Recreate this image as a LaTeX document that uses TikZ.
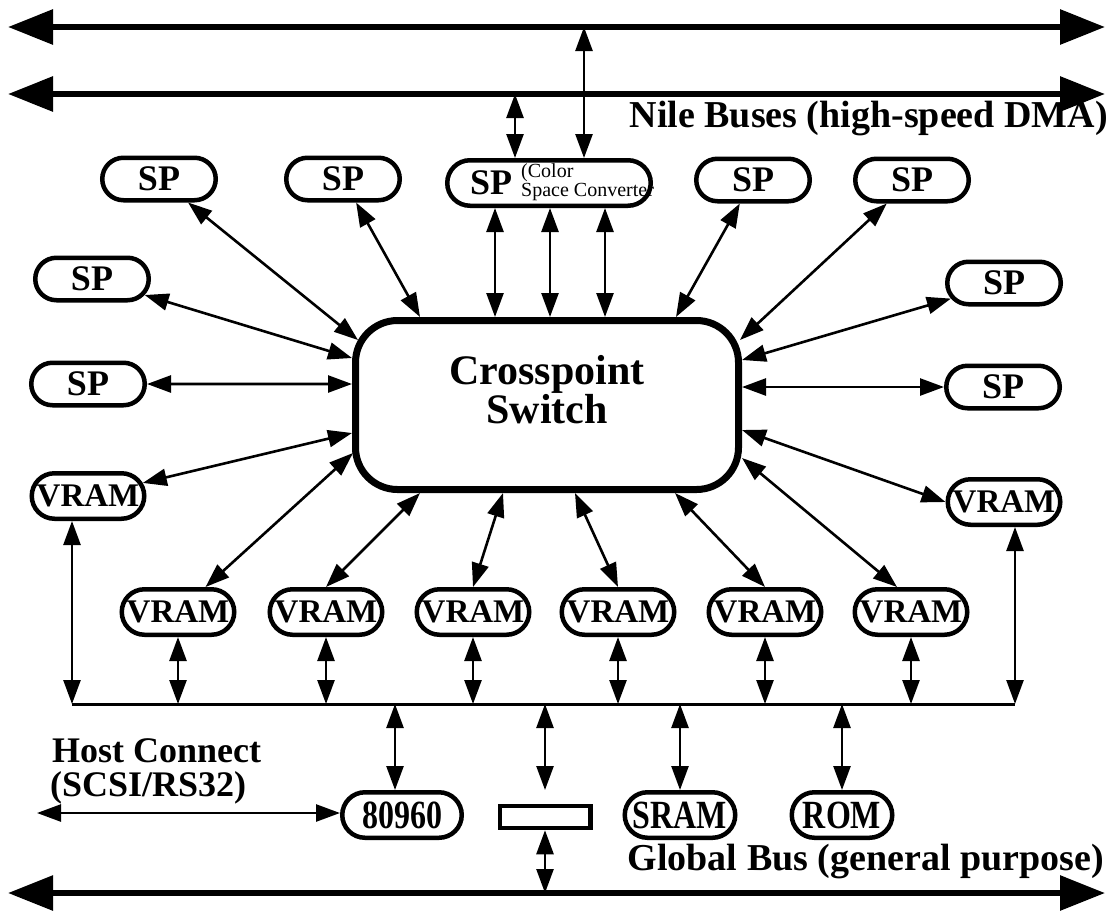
\documentclass[tikz,border=0pt]{standalone}
\usepackage{fontspec}
\setmainfont{Liberation Serif}
\newfontfamily\condfont[FakeStretch=0.8]{Liberation Serif}
\usetikzlibrary{arrows.meta,shapes.misc,calc}
\begin{document}
\begin{tikzpicture}[x=1pt,y=-1pt,
 every node/.style={inner sep=0pt},
 box/.style={rounded rectangle, draw, line width=4.5pt, minimum width=113.5pt, minimum height=42.5pt},
 vbox/.style={box, minimum width=112.5pt, minimum height=45.5pt},
 bbox/.style={box, minimum height=45.5pt},
 sptext/.style={font=\fontsize{36}{36}\selectfont\bfseries},
 vramtext/.style={font=\fontsize{33}{33}\selectfont\bfseries},
 ctext/.style={font=\condfont\bfseries\fontsize{40}{40}\selectfont},
 lab/.style={font=\fontsize{38}{38}\selectfont\bfseries},
 hlab/.style={font=\fontsize{36}{36}\selectfont\bfseries},
 link/.style={line width=2.6pt, {Triangle[length=24pt,width=17pt]}-{Triangle[length=24pt,width=17pt]}},
 bus/.style={line width=6pt, {Triangle[length=45pt,width=34pt]}-{Triangle[length=45pt,width=34pt]}},
]
\useasboundingbox (0,0) rectangle (1113,919);

% buses
\coordinate (n1L) at (8,27);   \coordinate (n1R) at (1105,27);
\coordinate (n2L) at (8,94);   \coordinate (n2R) at (1105,94);
\coordinate (gL) at (8,893);   \coordinate (gR) at (1105,893);
\coordinate (busL) at (72,704); \coordinate (busR) at (1015,704);
\draw[bus] (n1L) -- (n1R);
\draw[bus] (n2L) -- (n2R);
\draw[bus] (gL) -- (gR);
\draw[line width=3pt] (busL) -- (busR);

\node[lab, anchor=base east] (nile) at (1108,127) {Nile Buses (high-speed DMA)};
\node[lab, anchor=base east] (glob) at (1104,870) {Global Bus (general purpose)};
\node[hlab, anchor=base west] (hostA) at (52,762) {Host Connect};
\node[hlab, anchor=base west] (hostB) at (50,796) {(SCSI/RS32)};

% crosspoint switch
\node[draw, line width=7pt, rounded corners=42pt, minimum width=383pt, minimum height=169pt] (sw) at (547,405) {};
\node[font=\fontsize{42}{35}\selectfont\bfseries, align=center] (swlabel) at (547,390) {Crosspoint\\Switch};

% SP boxes
\node[box, label={[sptext]center:SP}] (sp1) at (159,179) {};
\node[box, label={[sptext]center:SP}] (sp2) at (343,179) {};
\node[box, label={[sptext]center:SP}] (sp4) at (753,180) {};
\node[box, label={[sptext]center:SP}] (sp5) at (912,180) {};
\node[box, label={[sptext]center:SP}] (spl1) at (92,279) {};
\node[box, label={[sptext]center:SP}] (spl2) at (88,384) {};
\node[box, label={[sptext]center:SP}] (spr1) at (1004,283) {};
\node[box, label={[sptext]center:SP}] (spr2) at (1003,387) {};

% colour space converter SP
\node[sptext] (spcA) at (491,183) {SP};
\node[font=\fontsize{20}{16}\selectfont, align=left, anchor=west] (spcB) at (521,182) {(Color\\Space Converter};
\node[box, minimum width=203.5pt, minimum height=45.5pt] (spc) at (549,183) {};

% VRAM boxes
\node[vbox, label={[vramtext]center:VRAM}] (vl) at (88,496) {};
\node[vbox, label={[vramtext]center:VRAM}] (vr) at (1004,502) {};
\node[vbox, label={[vramtext]center:VRAM}] (v1) at (178,612) {};
\node[vbox, label={[vramtext]center:VRAM}] (v2) at (326,612) {};
\node[vbox, label={[vramtext]center:VRAM}] (v3) at (473,612) {};
\node[vbox, label={[vramtext]center:VRAM}] (v4) at (618,612) {};
\node[vbox, label={[vramtext]center:VRAM}] (v5) at (765,612) {};
\node[vbox, label={[vramtext]center:VRAM}] (v6) at (911,612) {};

% bottom boxes
\node[bbox, minimum width=119.5pt, label={[ctext]center:80960}] (b1) at (402,815) {};
\node[bbox, minimum width=110.5pt, label={[ctext]center:SRAM}] (sram) at (680,815) {};
\node[bbox, minimum width=100.5pt, label={[ctext]center:ROM}] (rom) at (842,815) {};
\node[draw, line width=4.5pt, minimum width=90.5pt, minimum height=22pt] (rect) at (545,817) {};

% points on the switch border
\coordinate (s0) at (358,340);
\coordinate (sT1) at (420,317);
\coordinate (sT2) at (495,317);
\coordinate (sT3) at (550,317);
\coordinate (sT4) at (605,317);
\coordinate (sT5) at (676,317);
\coordinate (sT6) at (740,340);
\coordinate (sL1) at (352,358);
\coordinate (sL2) at (352,384);
\coordinate (sL3) at (352,433);
\coordinate (sL4) at (353,453);
\coordinate (sR1) at (742,360);
\coordinate (sR2) at (742,387);
\coordinate (sR3) at (742,430);
\coordinate (sR4) at (742,458);
\coordinate (sB2) at (420,493);
\coordinate (sB3) at (503,493);
\coordinate (sB4) at (575,493);
\coordinate (sB5) at (675,493);

% SP to switch
\draw[link] (sp1) -- (s0);
\draw[link] (sp2) -- (sT1);
\draw[link] (sT2 |- spc.south) -- (sT2);
\draw[link] (sT3 |- spc.south) -- (sT3);
\draw[link] (sT4 |- spc.south) -- (sT4);
\draw[link] (sp4) -- (sT5);
\draw[link] (sp5) -- (sT6);
\draw[link] (spl1) -- (sL1);
\draw[link] (spl2) -- (sL2);
\draw[link] (vl) -- (sL3);
\draw[link] (spr1) -- (sR1);
\draw[link] (spr2) -- (sR2);
\draw[link] (vr.west) -- (sR3);
\draw[link] (v1) -- (sL4);
\draw[link] (v2.north) -- (sB2);
\draw[link] (v3.north) -- (sB3);
\draw[link] (v4.north) -- (sB4);
\draw[link] (v5.north) -- (sB5);
\draw[link] ([xshift=-14pt]v6.north) -- (sR4);

% Nile bus taps
\coordinate (t2) at (515,94);
\coordinate (t1) at (584,27);
\draw[link] (t2 |- spc.north) -- (t2);
\draw[link] (t1 |- spc.north) -- (t1);

% VRAM to local bus
\draw[link] ([xshift=-16pt]vl.south) -- (busL);
\draw[link] (vr.south -| busR) -- (busR);
\foreach \v in {v1,v2,v3,v4,v5,v6}{
  \draw[link] (\v.south) -- (\v.south |- busL);
}

% local bus to bottom devices
\coordinate (b1top) at ([xshift=-7pt]b1.north);
\draw[link] (busL -| b1top) -- (b1top);
\coordinate (rtop) at (545,790);
\draw[link] (busL -| rtop) -- (rtop);
\draw[link] (busL -| sram.north) -- (sram.north);
\draw[link] (busL -| rom.north) -- (rom.north);
\draw[link] (rect.south) -- (rect.south |- gL);

% host connect
\coordinate (hostL) at (37,813);
\draw[link] (hostL) -- (hostL -| b1.west);
\end{tikzpicture}
\end{document}
